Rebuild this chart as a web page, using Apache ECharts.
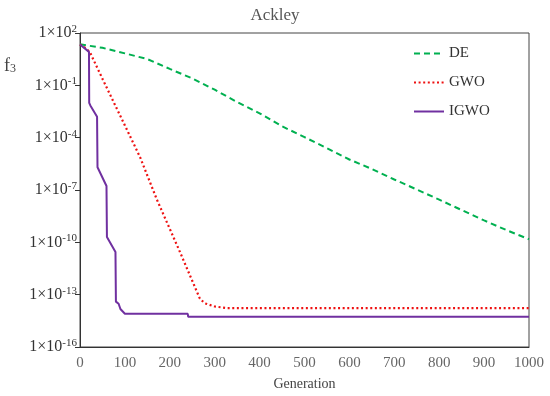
<!DOCTYPE html>
<html>
<head>
<meta charset="utf-8">
<script src="https://cdn.jsdelivr.net/npm/echarts@6/dist/echarts.min.js"></script>
<style>html,body{margin:0;padding:0;background:#fff;}#c{width:550px;height:396px;}</style>
</head>
<body>
<div id="c"></div>
<script>
var seriesNames = ['DE', 'GWO', 'IGWO'];
var deGen = [0, 50, 100, 150, 200, 250, 300, 350, 400, 450, 500, 550, 600, 650, 700, 750, 800, 850, 900, 950, 1000];
var deVal = [22.4, 14.1, 6.8, 3.2, 0.87, 0.25, 0.056, 0.011, 2.5e-3, 4.5e-4, 1.07e-4, 2.5e-5, 5.6e-6, 1.6e-6, 4e-7, 1.07e-7, 2.8e-8, 7.1e-9, 1.8e-9, 5e-10, 1.5e-10];
var gwoGen = [0, 10, 22, 51, 100, 134, 171, 220, 267, 278, 300, 327, 1000];
var gwoVal = [22, 15, 8, 0.21, 5e-4, 7.4e-6, 2.9e-8, 4e-11, 5.9e-14, 3.2e-14, 2.1e-14, 1.7e-14, 1.7e-14];
var igwoGen = [0, 20, 20.5, 23, 38, 39, 59, 60, 79, 80, 86, 90, 100, 240, 241, 1000];
var igwoVal = [22, 8.3, 1e-2, 7e-3, 1.6e-3, 2e-6, 1.7e-7, 2e-10, 2.8e-11, 4e-14, 3e-14, 1.5e-14, 8e-15, 8e-15, 5.4e-15, 5.4e-15];
var xTicks = [0, 100, 200, 300, 400, 500, 600, 700, 800, 900, 1000];

function pairs(g, v) { return g.map(function (x, i) { return [x, v[i]]; }); }
var FONT = 'Liberation Serif';
var chart = echarts.init(document.getElementById('c'));
chart.setOption({
  animation: false,
  backgroundColor: '#fff',
  title: { text: 'Ackley', left: 'center', top: 2, textStyle: { fontFamily: FONT, fontSize: 17, fontWeight: 'normal', color: '#555' } },
  grid: { left: 80, right: 21, top: 33, bottom: 47, show: true, borderColor: '#444', borderWidth: 1 },
  legend: {
    orient: 'vertical', left: 413, top: 46, padding: 0, itemWidth: 30, itemHeight: 14, itemGap: 14,
    itemStyle: { opacity: 0 },
    textStyle: { fontFamily: FONT, fontSize: 15, color: '#333' },
    data: seriesNames
  },
  xAxis: {
    type: 'value', min: 0, max: 1000, interval: 100,
    name: 'Generation', nameLocation: 'middle', nameGap: 30,
    nameTextStyle: { fontFamily: FONT, fontSize: 14, color: '#444' },
    axisLine: { show: true, lineStyle: { color: '#333' } },
    axisTick: { show: false },
    splitLine: { show: false },
    axisLabel: { fontFamily: FONT, fontSize: 15, color: '#666', margin: 9, formatter: function (v) { return String(v); } }
  },
  yAxis: {
    type: 'log', logBase: 10, min: 1e-16, max: 1e2, interval: 3,
    axisLine: { show: true, onZero: false, lineStyle: { color: '#333' } },
    axisTick: { show: true, inside: false, length: 5, lineStyle: { color: '#333' } },
    splitLine: { show: false },
    minorTick: { show: false },
    axisLabel: {
      margin: 3,
      formatter: function (v) {
        var e = Math.round(Math.log10(v));
        return '{a|1×10}{b|' + e + '}';
      },
      rich: {
        a: { fontFamily: FONT, fontSize: 16, color: '#333' },
        b: { fontFamily: FONT, fontSize: 11, color: '#333', padding: [0, 0, 8, 0] }
      }
    }
  },
  graphic: [{
    type: 'text', left: 4, top: 57,
    style: { text: '{f|f}{s|3}', rich: { f: { fontFamily: FONT, fontSize: 18, fill: '#444' }, s: { fontFamily: FONT, fontSize: 12, fill: '#444', padding: [6, 0, 0, 0] } } }
  }],
  series: [
    { name: 'DE', type: 'line', data: pairs(deGen, deVal), showSymbol: false, symbol: 'none', smooth: false,
      lineStyle: { color: '#00B050', width: 2, type: [6, 4] }, itemStyle: { color: '#00B050' } },
    { name: 'GWO', type: 'line', data: pairs(gwoGen, gwoVal), showSymbol: false, symbol: 'none',
      lineStyle: { color: '#EE1111', width: 2.2, type: [2, 2.6] }, itemStyle: { color: '#EE1111' } },
    { name: 'IGWO', type: 'line', data: pairs(igwoGen, igwoVal), showSymbol: false, symbol: 'none',
      lineStyle: { color: '#7030A0', width: 2 }, itemStyle: { color: '#7030A0' } }
  ]
});
</script>
</body>
</html>
